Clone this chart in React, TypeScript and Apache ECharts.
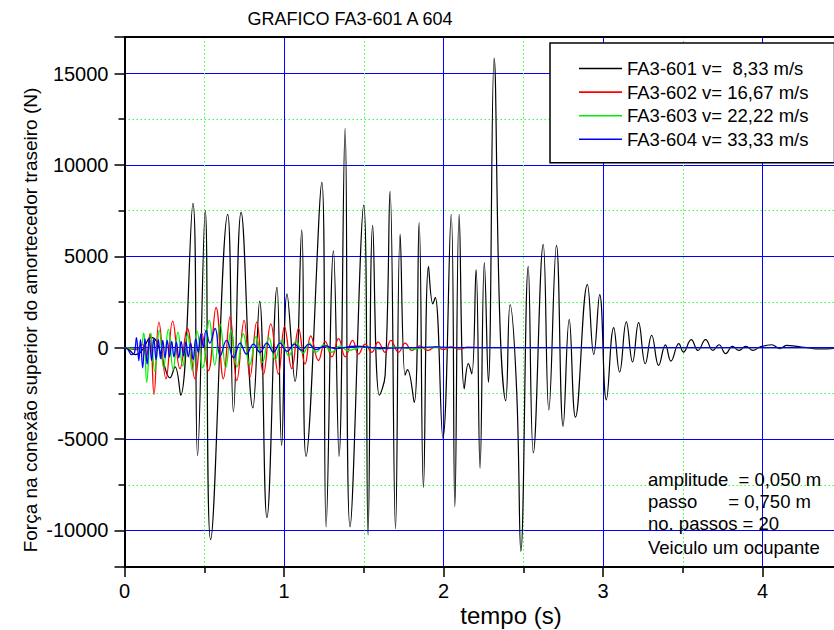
import React, { useEffect, useRef } from "react";
import * as echarts from "echarts";

const FONT = "'Liberation Sans', Arial, Helvetica, sans-serif";

const chartTitle = "GRAFICO FA3-601 A 604";
const xAxisTitle = "tempo (s)";
const yAxisTitle = "Força na conexão superior do amortecedor traseiro (N)";
const seriesNames = [
  "FA3-601 v=\u00A0 8,33 m/s",
  "FA3-602 v= 16,67 m/s",
  "FA3-603 v= 22,22 m/s",
  "FA3-604 v= 33,33 m/s",
];
const seriesColors = ["#000000", "#ff0000", "#00ee00", "#0000ff"];
const notes = [
  "amplitude\u00A0 = 0,050 m",
  "passo\u00A0\u00A0\u00A0\u00A0\u00A0 = 0,750 m",
  "no. passos = 20",
  "Veiculo um ocupante",
];

// [tempo (s), força (N)]
const fa601: [number, number][] = [
  [0, 0], [0.03, -120], [0.066, -380], [0.1, -250], [0.13, 150], [0.165, 560], [0.2, 350],
  [0.24, -700], [0.285, -1650], [0.317, -1050], [0.352, -2600], [0.429, 7900], [0.458, -5900],
  [0.506, 7500], [0.54, -10500], [0.647, 7300], [0.683, -3500], [0.731, 7400], [0.805, -3300],
  [0.847, 2550], [0.893, -9300], [0.956, 3300], [0.985, -5350], [1.019, 2950], [1.069, -1850],
  [1.111, 6450], [1.138, -5950], [1.237, 9050], [1.264, -9800], [1.31, 5300], [1.345, -5950],
  [1.383, 12000], [1.414, -9800], [1.5, 7800], [1.527, -10250], [1.556, 6700], [1.598, -2600],
  [1.634, -1500], [1.665, 8550], [1.699, -9900], [1.728, 6200], [1.759, -1500], [1.774, -1200],
  [1.816, -3000], [1.847, 6850], [1.874, -7650], [1.906, 4450], [1.933, 2400], [1.948, 2750],
  [1.996, -4950], [2.048, 7300], [2.071, -8700], [2.098, 7300], [2.13, -2250], [2.156, -870],
  [2.177, -1430], [2.204, 4270], [2.229, -6600], [2.256, 4650], [2.281, -1900], [2.317, 15850],
  [2.354, 1250], [2.39, -2900], [2.417, 2350], [2.458, -2250], [2.485, -11150], [2.531, 4450],
  [2.563, -5750], [2.625, 5650], [2.66, -3400], [2.708, 5600], [2.75, -4300], [2.788, 1550],
  [2.827, -3800], [2.902, 3450], [2.942, -370], [2.979, 2900], [3.021, -2850], [3.067, 1100],
  [3.104, -1340], [3.146, 1410], [3.185, -780], [3.223, 1370], [3.265, -880], [3.305, 680],
  [3.349, -970], [3.391, 150], [3.426, -730], [3.475, 220], [3.504, -240], [3.553, 440],
  [3.595, -150], [3.643, 440], [3.689, -150], [3.727, 160], [3.769, -330], [3.811, 70],
  [3.853, -150], [3.895, 70], [3.941, -150], [3.983, 40], [4.057, 160], [4.109, -50],
  [4.151, 130], [4.214, 70], [4.277, 0], [4.361, -70], [4.5, 0],
];

const fa602: [number, number][] = [
  [0, 0], [0.08, -100], [0.11, 200], [0.135, -500], [0.16, 770], [0.185, -2550], [0.216, 1400],
  [0.26, -1700], [0.302, 1450], [0.348, -1150], [0.394, 1050], [0.442, -1700], [0.484, 800],
  [0.526, -1250], [0.574, 2200], [0.62, -1700], [0.662, 1700], [0.704, -1800], [0.75, 1500],
  [0.787, -1600], [0.829, 1400], [0.871, -1450], [0.917, 1300], [0.965, -1450], [1.003, 1150],
  [1.049, -1150], [1.091, 1050], [1.132, -900], [1.168, 650], [1.216, -700], [1.258, 350],
  [1.3, -500], [1.342, 500], [1.384, -500], [1.43, 400], [1.467, -350], [1.509, 200],
  [1.55, -250], [1.59, 300], [1.634, -250], [1.67, 400], [1.718, -250], [1.76, 250],
  [1.801, -150], [1.85, 100], [1.9, -150], [1.95, 50], [2.0, -100], [2.05, 50], [2.1, -80],
  [2.15, 30], [2.25, 0], [4.5, 0],
];

const fa603: [number, number][] = [
  [0, 0], [0.09, -50], [0.12, 800], [0.139, -1900], [0.165, 800], [0.19, -1300], [0.218, 950],
  [0.245, -1100], [0.275, 1000], [0.305, -1200], [0.335, 850], [0.365, -1000], [0.395, 750],
  [0.425, -1250], [0.455, 900], [0.49, -1100], [0.532, 1500], [0.566, -950], [0.599, 1300],
  [0.635, -1100], [0.668, 950], [0.705, -1050], [0.745, 750], [0.785, -950], [0.825, 600],
  [0.865, -800], [0.905, 550], [0.945, -650], [0.985, 400], [1.03, -450], [1.075, 350],
  [1.12, -300], [1.16, 250], [1.2, -250], [1.25, 150], [1.3, -250], [1.35, 100], [1.4, -150],
  [1.5, 50], [1.6, -80], [1.7, 30], [1.8, -60], [1.9, 0], [4.5, 0],
];

const fa604: [number, number][] = [
  [0, 0], [0.02, -80], [0.045, -380], [0.062, -300], [0.075, 550], [0.09, -700], [0.1, 450],
  [0.114, -1100], [0.128, 500], [0.142, -900], [0.156, 550], [0.17, -700], [0.184, 500],
  [0.198, -650], [0.212, 450], [0.226, -600], [0.24, 400], [0.254, -550], [0.268, 400],
  [0.282, -500], [0.296, 350], [0.31, -500], [0.325, 300], [0.34, -550], [0.355, 350],
  [0.37, -450], [0.385, 300], [0.4, -500], [0.415, 250], [0.43, -650], [0.447, 500],
  [0.462, -250], [0.48, 750], [0.495, 0], [0.511, 950], [0.535, 250], [0.568, 1050],
  [0.6, -450], [0.64, 400], [0.684, -550], [0.725, 250], [0.765, -350], [0.808, 200],
  [0.85, -250], [0.892, 250], [0.935, -250], [0.975, 250], [1.02, -200], [1.065, 200],
  [1.11, -150], [1.155, 200], [1.2, -100], [1.26, 100], [1.32, -50], [1.45, 80], [1.6, -30],
  [1.8, 0], [1.95, 40], [2.1, 0], [4.5, 0],
];

const allSeries = [fa601, fa602, fa603, fa604];

export default function App() {
  const ref = useRef<HTMLDivElement>(null);

  useEffect(() => {
    if (!ref.current) return;
    const chart = echarts.init(ref.current, undefined, { renderer: "svg" });

    const tickLabel = { fontSize: 20, color: "#000", fontFamily: FONT };
    const blackLine = { show: true, lineStyle: { color: "#000", width: 2 } };

    chart.setOption({
      animation: false,
      backgroundColor: "#ffffff",
      textStyle: { fontFamily: FONT },
      grid: { left: 124.5, top: 37, right: 17.7, bottom: 63, containLabel: false },
      legend: {
        orient: "vertical",
        left: 550,
        top: 43,
        padding: [16, 26, 14, 29],
        itemGap: 4.6,
        itemWidth: 43,
        itemHeight: 1.6,
        icon: "rect",
        backgroundColor: "#ffffff",
        borderColor: "#000",
        borderWidth: 1.5,
        selectedMode: false,
        textStyle: { fontSize: 18.5, color: "#000", fontFamily: FONT, lineHeight: 18 },
        data: seriesNames,
      },
      xAxis: [
        {
          type: "value",
          min: 0,
          max: 4.5,
          interval: 1,
          axisLine: { ...blackLine, onZero: false },
          axisTick: { show: true, inside: false, length: 10, lineStyle: { color: "#000", width: 1.5 } },
          minorTick: { show: true, splitNumber: 2, length: 6, lineStyle: { color: "#000", width: 1.5 } },
          axisLabel: { ...tickLabel, margin: 14, showMaxLabel: false, formatter: (v: number) => String(v) },
          splitLine: { show: true, showMinLine: false, showMaxLine: false, lineStyle: { color: "#0000ff", width: 1 } },
          minorSplitLine: { show: true, lineStyle: { color: "#33ff33", width: 1, type: [1.5, 2.5] } },
        },
        {
          type: "value",
          position: "top",
          min: 0,
          max: 4.5,
          interval: 1,
          z: 5,
          axisLine: { ...blackLine, onZero: false },
          axisTick: { show: false },
          axisLabel: { show: false },
          splitLine: { show: false },
        },
      ],
      yAxis: [
        {
          type: "value",
          min: -12000,
          max: 17000,
          splitNumber: 6,
          axisLine: { ...blackLine, onZero: false },
          axisTick: { show: true, inside: false, length: 10, lineStyle: { color: "#000", width: 1.5 } },
          minorTick: { show: true, splitNumber: 2, length: 6, lineStyle: { color: "#000", width: 1.5 } },
          axisLabel: {
            ...tickLabel,
            margin: 16,
            showMinLabel: false,
            showMaxLabel: false,
            formatter: (v: number) => String(v),
          },
          splitLine: { show: true, showMinLine: false, showMaxLine: false, lineStyle: { color: "#0000ff", width: 1 } },
          minorSplitLine: { show: true, lineStyle: { color: "#33ff33", width: 1, type: [1.5, 2.5] } },
        },
      ],
      series: allSeries.map((d, i) => ({
        type: "line",
        name: seriesNames[i],
        data: d,
        xAxisIndex: 0,
        yAxisIndex: 0,
        symbol: "none",
        showSymbol: false,
        smooth: 0.45,
        silent: true,
        z: 2 + i,
        lineStyle: { color: seriesColors[i], width: i === 0 ? 1.2 : 1.3 },
        itemStyle: { color: seriesColors[i] },
      })),
      graphic: [
        {
          type: "text",
          x: 350,
          y: 19,
          style: { text: chartTitle, fill: "#000", font: `18px ${FONT}`, align: "center", verticalAlign: "middle" },
        },
        {
          type: "text",
          x: 511,
          y: 615,
          style: { text: xAxisTitle, fill: "#000", font: `24px ${FONT}`, align: "center", verticalAlign: "middle" },
        },
        {
          type: "text",
          x: 30,
          y: 320,
          rotation: Math.PI / 2,
          style: { text: yAxisTitle, fill: "#000", font: `19px ${FONT}`, align: "center", verticalAlign: "middle" },
        },
        ...notes.map((t, i) => ({
          type: "text",
          x: 648,
          y: [479.5, 501.5, 523.5, 547.5][i],
          z: 10,
          style: { text: t, fill: "#000", font: `18.5px ${FONT}`, align: "left", verticalAlign: "middle" },
        })),
      ],
    });

    return () => chart.dispose();
  }, []);

  return (
    <div style={{ position: "fixed", left: 0, top: 0, width: 834, height: 630, overflow: "hidden", background: "#fff" }}>
      <div ref={ref} style={{ width: 860, height: 630 }} />
    </div>
  );
}
